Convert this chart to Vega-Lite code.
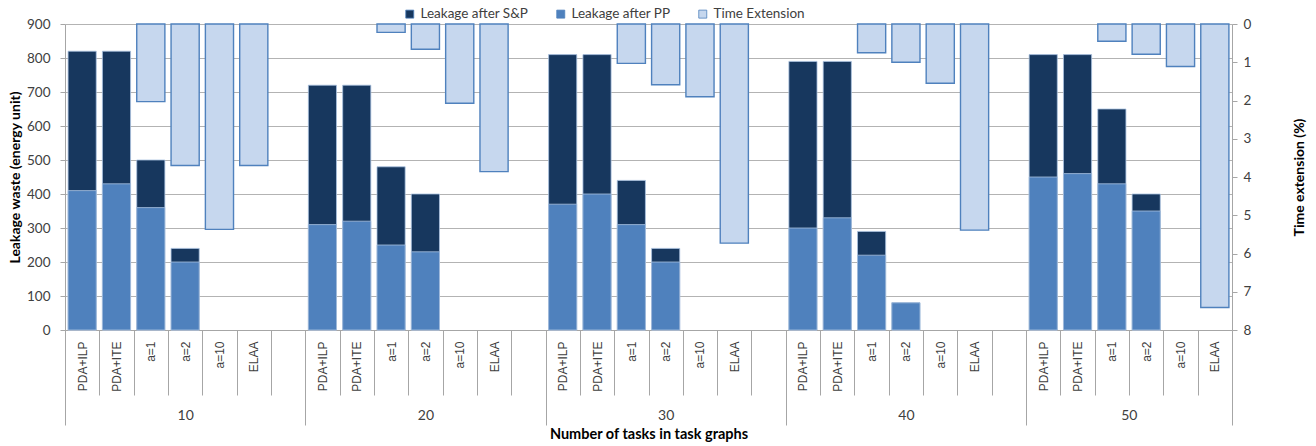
{
  "$schema": "https://vega.github.io/schema/vega-lite/v6.json",
  "autosize": {"type": "none"},
  "width": 1167,
  "height": 306,
  "padding": {"left": 65, "top": 24, "right": 84, "bottom": 116},
  "config": {
    "view": {"stroke": null},
    "font": "Lato",
    "axis": {"labelFont": "Lato", "titleFont": "Lato"},
    "legend": {"labelFont": "Lato"}
  },
  "layer": [
    {
      "data": {
        "values": [
          {"slot": "10|PDA+ILP", "series": "Leakage after S&P", "value": 820},
          {"slot": "10|PDA+ITE", "series": "Leakage after S&P", "value": 820},
          {"slot": "10|a=1", "series": "Leakage after S&P", "value": 500},
          {"slot": "10|a=2", "series": "Leakage after S&P", "value": 240},
          {"slot": "20|PDA+ILP", "series": "Leakage after S&P", "value": 720},
          {"slot": "20|PDA+ITE", "series": "Leakage after S&P", "value": 720},
          {"slot": "20|a=1", "series": "Leakage after S&P", "value": 480},
          {"slot": "20|a=2", "series": "Leakage after S&P", "value": 400},
          {"slot": "30|PDA+ILP", "series": "Leakage after S&P", "value": 810},
          {"slot": "30|PDA+ITE", "series": "Leakage after S&P", "value": 810},
          {"slot": "30|a=1", "series": "Leakage after S&P", "value": 440},
          {"slot": "30|a=2", "series": "Leakage after S&P", "value": 240},
          {"slot": "40|PDA+ILP", "series": "Leakage after S&P", "value": 790},
          {"slot": "40|PDA+ITE", "series": "Leakage after S&P", "value": 790},
          {"slot": "40|a=1", "series": "Leakage after S&P", "value": 290},
          {"slot": "40|a=2", "series": "Leakage after S&P", "value": 80},
          {"slot": "50|PDA+ILP", "series": "Leakage after S&P", "value": 810},
          {"slot": "50|PDA+ITE", "series": "Leakage after S&P", "value": 810},
          {"slot": "50|a=1", "series": "Leakage after S&P", "value": 650},
          {"slot": "50|a=2", "series": "Leakage after S&P", "value": 400},
          {"slot": "10|PDA+ILP", "series": "Leakage after PP", "value": 410},
          {"slot": "10|PDA+ITE", "series": "Leakage after PP", "value": 430},
          {"slot": "10|a=1", "series": "Leakage after PP", "value": 360},
          {"slot": "10|a=2", "series": "Leakage after PP", "value": 200},
          {"slot": "20|PDA+ILP", "series": "Leakage after PP", "value": 310},
          {"slot": "20|PDA+ITE", "series": "Leakage after PP", "value": 320},
          {"slot": "20|a=1", "series": "Leakage after PP", "value": 250},
          {"slot": "20|a=2", "series": "Leakage after PP", "value": 230},
          {"slot": "30|PDA+ILP", "series": "Leakage after PP", "value": 370},
          {"slot": "30|PDA+ITE", "series": "Leakage after PP", "value": 400},
          {"slot": "30|a=1", "series": "Leakage after PP", "value": 310},
          {"slot": "30|a=2", "series": "Leakage after PP", "value": 200},
          {"slot": "40|PDA+ILP", "series": "Leakage after PP", "value": 300},
          {"slot": "40|PDA+ITE", "series": "Leakage after PP", "value": 330},
          {"slot": "40|a=1", "series": "Leakage after PP", "value": 220},
          {"slot": "40|a=2", "series": "Leakage after PP", "value": 80},
          {"slot": "50|PDA+ILP", "series": "Leakage after PP", "value": 450},
          {"slot": "50|PDA+ITE", "series": "Leakage after PP", "value": 460},
          {"slot": "50|a=1", "series": "Leakage after PP", "value": 430},
          {"slot": "50|a=2", "series": "Leakage after PP", "value": 350}
        ]
      },
      "mark": {"type": "bar", "width": {"band": 0.82}, "stroke": "#A9C1E0", "strokeWidth": 0.8},
      "encoding": {
        "x": {
          "field": "slot", "type": "nominal",
          "scale": {"domain": ["10|PDA+ILP","10|PDA+ITE","10|a=1","10|a=2","10|a=10","10|ELAA","10|gap","20|PDA+ILP","20|PDA+ITE","20|a=1","20|a=2","20|a=10","20|ELAA","20|gap","30|PDA+ILP","30|PDA+ITE","30|a=1","30|a=2","30|a=10","30|ELAA","30|gap","40|PDA+ILP","40|PDA+ITE","40|a=1","40|a=2","40|a=10","40|ELAA","40|gap","50|PDA+ILP","50|PDA+ITE","50|a=1","50|a=2","50|a=10","50|ELAA"], "paddingInner": 0, "paddingOuter": 0},
          "axis": {
            "orient": "bottom", "title": null, "tickBand": "extent", "tickSize": 65,
            "tickColor": "#A6A6A6", "domainColor": "#A6A6A6",
            "labelAngle": 270, "labelAlign": "right", "labelBaseline": "middle",
            "labelPadding": -54, "labelFont": "Liberation Sans", "labelFontSize": 12,
            "labelColor": "#404040", "labelOverlap": false,
            "labelExpr": "(!datum.value || indexof(datum.value, 'gap') >= 0) ? '' : split(datum.value, '|')[1]"
          }
        },
        "y": {
          "field": "value", "type": "quantitative", "stack": null,
          "scale": {"domain": [0, 900], "nice": false},
          "axis": {
            "orient": "left", "values": [0,100,200,300,400,500,600,700,800,900],
            "labelOverlap": false,
            "title": "Leakage waste (energy unit)", "titleFontSize": 14, "titleFontWeight": "bold",
            "titleColor": "#000000", "titlePadding": 4,
            "labelFontSize": 13.5, "labelColor": "#404040", "labelPadding": 10,
            "tickSize": 5, "tickColor": "#A6A6A6", "domainColor": "#A6A6A6",
            "grid": true, "gridColor": "#B3B3B3"
          }
        },
        "color": {
          "field": "series", "type": "nominal",
          "scale": {"domain": ["Leakage after S&P", "Leakage after PP", "Time Extension"], "range": ["#17375E", "#4F81BD", "#C6D7EE"]},
          "legend": {
            "orient": "none", "legendX": 338, "legendY": -17, "direction": "horizontal",
            "title": null, "symbolType": "square", "symbolSize": 64,
            "symbolStrokeColor": "#4F81BD", "symbolStrokeWidth": 0.8,
            "labelFontSize": 13.5, "labelColor": "#404040", "columnPadding": 25, "labelOffset": 4
          }
        }
      }
    },
    {
      "data": {
        "values": [
          {"slot": "10|a=1", "te": 2.03},
          {"slot": "10|a=2", "te": 3.70},
          {"slot": "10|a=10", "te": 5.37},
          {"slot": "10|ELAA", "te": 3.70},
          {"slot": "20|a=1", "te": 0.22},
          {"slot": "20|a=2", "te": 0.66},
          {"slot": "20|a=10", "te": 2.07},
          {"slot": "20|ELAA", "te": 3.86},
          {"slot": "30|a=1", "te": 1.03},
          {"slot": "30|a=2", "te": 1.59},
          {"slot": "30|a=10", "te": 1.90},
          {"slot": "30|ELAA", "te": 5.73},
          {"slot": "40|a=1", "te": 0.75},
          {"slot": "40|a=2", "te": 1.00},
          {"slot": "40|a=10", "te": 1.55},
          {"slot": "40|ELAA", "te": 5.39},
          {"slot": "50|a=1", "te": 0.45},
          {"slot": "50|a=2", "te": 0.79},
          {"slot": "50|a=10", "te": 1.11},
          {"slot": "50|ELAA", "te": 7.41}
        ]
      },
      "mark": {"type": "bar", "width": {"band": 0.82}, "stroke": "#4F81BD", "strokeWidth": 1.4},
      "encoding": {
        "x": {
          "field": "slot", "type": "nominal",
          "scale": {"domain": ["10|PDA+ILP","10|PDA+ITE","10|a=1","10|a=2","10|a=10","10|ELAA","10|gap","20|PDA+ILP","20|PDA+ITE","20|a=1","20|a=2","20|a=10","20|ELAA","20|gap","30|PDA+ILP","30|PDA+ITE","30|a=1","30|a=2","30|a=10","30|ELAA","30|gap","40|PDA+ILP","40|PDA+ITE","40|a=1","40|a=2","40|a=10","40|ELAA","40|gap","50|PDA+ILP","50|PDA+ITE","50|a=1","50|a=2","50|a=10","50|ELAA"], "paddingInner": 0, "paddingOuter": 0},
          "axis": {
            "orient": "bottom", "title": "Number of tasks in task graphs",
            "titleFontSize": 14.5, "titleFontWeight": "bold", "titleColor": "#000000", "titlePadding": 2,
            "tickBand": "extent", "tickSize": 95, "tickColor": "#A6A6A6",
            "tickOpacity": {"condition": {"test": "datum.index === -1 || indexof(['10|gap','20|gap','30|gap','40|gap','50|ELAA'], datum.value) >= 0", "value": 1}, "value": 0},
            "domain": false, "labelAngle": 0, "labelAlign": "center", "labelBaseline": "top",
            "labelPadding": -17, "labelFontSize": 14, "labelColor": "#404040", "labelOverlap": false,
            "labelOffset": {"condition": {"test": "datum.value === '50|a=1'", "value": 17}, "value": 0},
            "labelExpr": "datum.value === '10|a=2' ? '10' : datum.value === '20|a=2' ? '20' : datum.value === '30|a=2' ? '30' : datum.value === '40|a=2' ? '40' : datum.value === '50|a=1' ? '50' : ''"
          }
        },
        "y": {
          "field": "te", "type": "quantitative",
          "scale": {"domain": [0, 8], "reverse": true, "nice": false},
          "axis": {
            "orient": "right", "values": [0,1,2,3,4,5,6,7,8], "grid": false,
            "title": "Time extension (%)", "titleAngle": 270, "titleBaseline": "top",
            "titleFontSize": 14, "titleFontWeight": "bold", "titleColor": "#000000", "titlePadding": 42,
            "labelFontSize": 13.5, "labelColor": "#404040", "labelPadding": 6,
            "tickSize": 5, "tickColor": "#A6A6A6", "domainColor": "#A6A6A6"
          }
        },
        "color": {"datum": "Time Extension", "type": "nominal"}
      }
    }
  ],
  "resolve": {"scale": {"y": "independent"}, "axis": {"x": "independent"}}
}
